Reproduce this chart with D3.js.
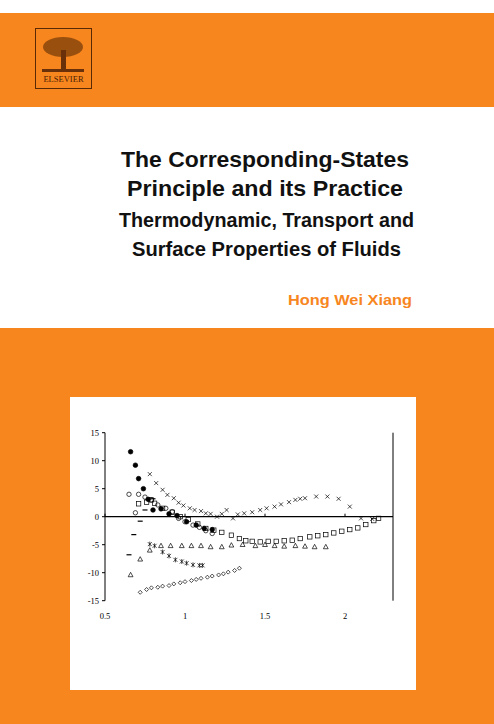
<!DOCTYPE html><html><head><meta charset="utf-8">
<script src="https://cdn.jsdelivr.net/npm/d3@7"></script>
<style>body{margin:0;background:#fff}svg{display:block}</style></head><body>
<script>
const titleLines = ["The Corresponding-States","Principle and its Practice","Thermodynamic, Transport and","Surface Properties of Fluids"];
const author = "Hong Wei Xiang";
const xTicks = [0.5,1,1.5,2];
const yTicks = [15,10,5,0,-5,-10,-15];
const filledX = [0.66,0.69,0.71,0.74,0.77,0.80,0.85,0.90,0.95,1.01,1.07,1.12,1.17];
const filledY = [11.6,9.2,6.8,5.0,3.1,1.2,1.4,0.5,0.2,-0.9,-1.5,-2.1,-2.3];
const openX = [0.65,0.69,0.71,0.75,0.79,0.83,0.88,0.92,0.96,1.00,1.05,1.09,1.13,1.17];
const openY = [4.0,0.7,4.0,3.5,3.0,2.1,1.5,0.9,-0.3,-0.9,-1.5,-1.9,-2.5,-3.0];
const dashX = [0.65,0.68,0.72,0.75,0.80];
const dashY = [-6.8,-3.2,-0.8,1.2,3.2];
const triX = [0.66,0.72,0.78,0.85,0.91,0.98,1.04,1.10,1.16,1.23,1.29,1.36,1.44,1.50,1.56,1.62,1.69,1.75,1.81,1.88];
const triY = [-10.4,-7.6,-6.0,-5.2,-5.2,-5.2,-5.2,-5.2,-5.4,-5.4,-5.1,-5.0,-5.2,-5.0,-5.2,-5.3,-5.2,-5.3,-5.4,-5.4];
const sqX = [0.71,0.76,0.79,0.81,0.86,0.92,0.97,1.02,1.08,1.13,1.18,1.23,1.29,1.34,1.38,1.42,1.47,1.52,1.57,1.62,1.67,1.72,1.78,1.83,1.88,1.93,1.98,2.03,2.08,2.13,2.18,2.21];
const sqY = [2.3,2.6,3.0,2.4,1.5,0.8,0,-0.5,-1.3,-2.1,-2.4,-2.8,-3.3,-3.9,-4.3,-4.4,-4.5,-4.4,-4.4,-4.3,-4.2,-3.9,-3.6,-3.4,-3.2,-2.9,-2.6,-2.3,-2.0,-1.4,-0.7,-0.3];
const crossX = [0.78,0.82,0.86,0.89,0.93,0.96,0.99,1.03,1.06,1.10,1.13,1.16,1.20,1.23,1.26,1.30,1.33,1.37,1.42,1.47,1.51,1.56,1.60,1.65,1.69,1.72,1.75,1.82,1.89,1.96,2.03,2.10,2.17];
const crossY = [7.6,6.0,4.8,3.9,3.3,2.5,2.0,1.5,1.2,1.0,0.6,0.5,0,0.5,1.2,-0.3,0.4,0.6,0.8,1.2,1.5,1.8,2.2,2.6,3.0,3.2,3.3,3.6,3.6,3.2,1.8,-0.3,-0.4];
const astX = [0.78,0.81,0.86,0.90,0.94,0.98,1.01,1.05,1.09,1.11];
const astY = [-4.9,-5.2,-6.3,-7.0,-7.7,-8.0,-8.3,-8.6,-8.7,-8.7];
const diaX = [0.72,0.76,0.79,0.83,0.86,0.90,0.93,0.97,1.00,1.04,1.07,1.10,1.14,1.17,1.21,1.24,1.27,1.31,1.34];
const diaY = [-13.5,-13.0,-12.7,-12.6,-12.4,-12.3,-12.0,-11.8,-11.6,-11.4,-11.2,-11.0,-10.8,-10.6,-10.4,-10.2,-9.9,-9.6,-9.2];

const W=494,H=724, OR="#f7861e";
const svg=d3.select("body").append("svg").attr("width",W).attr("height",H);
svg.append("rect").attr("width",W).attr("height",H).attr("fill","#fff");
svg.append("rect").attr("y",13).attr("width",W).attr("height",94).attr("fill",OR);
svg.append("rect").attr("y",328).attr("width",W).attr("height",H-328).attr("fill",OR);
const lg=svg.append("g");
lg.append("rect").attr("x",35.5).attr("y",28.5).attr("width",56).attr("height",60).attr("fill","none").attr("stroke","#5a2a05").attr("stroke-width",1);
lg.append("ellipse").attr("cx",63).attr("cy",47).attr("rx",20).attr("ry",10).attr("fill","#7a3c0a").attr("opacity",0.75);
lg.append("rect").attr("x",61).attr("y",50).attr("width",5).attr("height",20).attr("fill","#6a300a");
lg.append("rect").attr("x",42).attr("y",69).attr("width",42).attr("height",3).attr("fill","#6a300a");
lg.append("text").attr("x",63.5).attr("y",82).attr("text-anchor","middle").attr("font-family","Liberation Serif").attr("font-size",8.5).attr("fill","#4a2205").text("ELSEVIER");
const tf="'Liberation Sans Narrow','Liberation Sans',Arial,sans-serif";
const tl=[[121,409,167,22],[127,403,196,22],[119,414,227,19.5],[132,401,256,19.5]];
titleLines.forEach((t,i)=>{const [a,b,yy,fs]=tl[i];
 svg.append("text").attr("x",a).attr("y",yy).attr("font-family",tf).attr("font-weight","bold").attr("font-size",fs).attr("textLength",b-a).attr("lengthAdjust","spacingAndGlyphs").attr("fill","#111").text(t);});
svg.append("text").attr("x",288).attr("y",305).attr("font-family",tf).attr("font-weight","bold").attr("font-size",15).attr("textLength",124).attr("lengthAdjust","spacingAndGlyphs").attr("fill",OR).text(author);
svg.append("rect").attr("x",70).attr("y",397).attr("width",346).attr("height",293).attr("fill","#fff");
const x=d3.scaleLinear().domain([0.5,2.3]).range([105,393]);
const y=d3.scaleLinear().domain([-15,15]).range([600.7,432.7]);
const sf="'Liberation Serif','Times New Roman',serif";
const g=svg.append("g");
g.append("line").attr("x1",x(0.5)).attr("x2",x(0.5)).attr("y1",y(15)).attr("y2",y(-15)).attr("stroke","#000");
g.append("line").attr("x1",x(2.3)).attr("x2",x(2.3)).attr("y1",y(15)).attr("y2",y(-15)).attr("stroke","#000");
g.append("line").attr("x1",x(0.5)).attr("x2",x(2.3)).attr("y1",y(0)).attr("y2",y(0)).attr("stroke","#000").attr("stroke-width",1.2);
yTicks.forEach(v=>{g.append("line").attr("x1",x(0.5)-3).attr("x2",x(0.5)).attr("y1",y(v)).attr("y2",y(v)).attr("stroke","#000");
 g.append("text").attr("x",x(0.5)-6).attr("y",y(v)+3).attr("text-anchor","end").attr("font-family",sf).attr("font-size",8.5).attr("fill","#000").text(v);});
xTicks.forEach(v=>{
 g.append("line").attr("x1",x(v)).attr("x2",x(v)).attr("y1",y(0)).attr("y2",y(0)-3).attr("stroke","#000");
 g.append("text").attr("x",x(v)).attr("y",y(-15)+18).attr("text-anchor","middle").attr("font-family",sf).attr("font-size",8.5).attr("fill","#000").text(v);});
function pts(X,Y){return X.map((v,i)=>[x(v),y(Y[i])]);}
function sym(X,Y,type){const gg=g.append("g").attr("fill","none").attr("stroke","#000").attr("stroke-width",0.7);
 pts(X,Y).forEach(([a,b])=>{
  if(type=="fc")gg.append("circle").attr("cx",a).attr("cy",b).attr("r",2.3).attr("fill","#000");
  if(type=="oc")gg.append("circle").attr("cx",a).attr("cy",b).attr("r",2.2);
  if(type=="dash")gg.append("line").attr("x1",a-2.5).attr("x2",a+2.5).attr("y1",b).attr("y2",b).attr("stroke-width",1.2);
  if(type=="sq")gg.append("rect").attr("x",a-2.2).attr("y",b-2.2).attr("width",4.4).attr("height",4.4);
  if(type=="tri")gg.append("path").attr("d",`M${a},${b-2.6}L${a+2.4},${b+1.8}L${a-2.4},${b+1.8}Z`);
  if(type=="x"||type=="ast"){gg.append("path").attr("d",`M${a-2},${b-2}L${a+2},${b+2}M${a-2},${b+2}L${a+2},${b-2}`+(type=="ast"?`M${a},${b-2.5}L${a},${b+2.5}`:""));}
  if(type=="dia")gg.append("path").attr("d",`M${a},${b-2}L${a+2},${b}L${a},${b+2}L${a-2},${b}Z`);
 });}
sym(filledX,filledY,"fc");sym(openX,openY,"oc");sym(dashX,dashY,"dash");sym(triX,triY,"tri");
sym(sqX,sqY,"sq");sym(crossX,crossY,"x");sym(astX,astY,"ast");sym(diaX,diaY,"dia");
</script></body></html>
